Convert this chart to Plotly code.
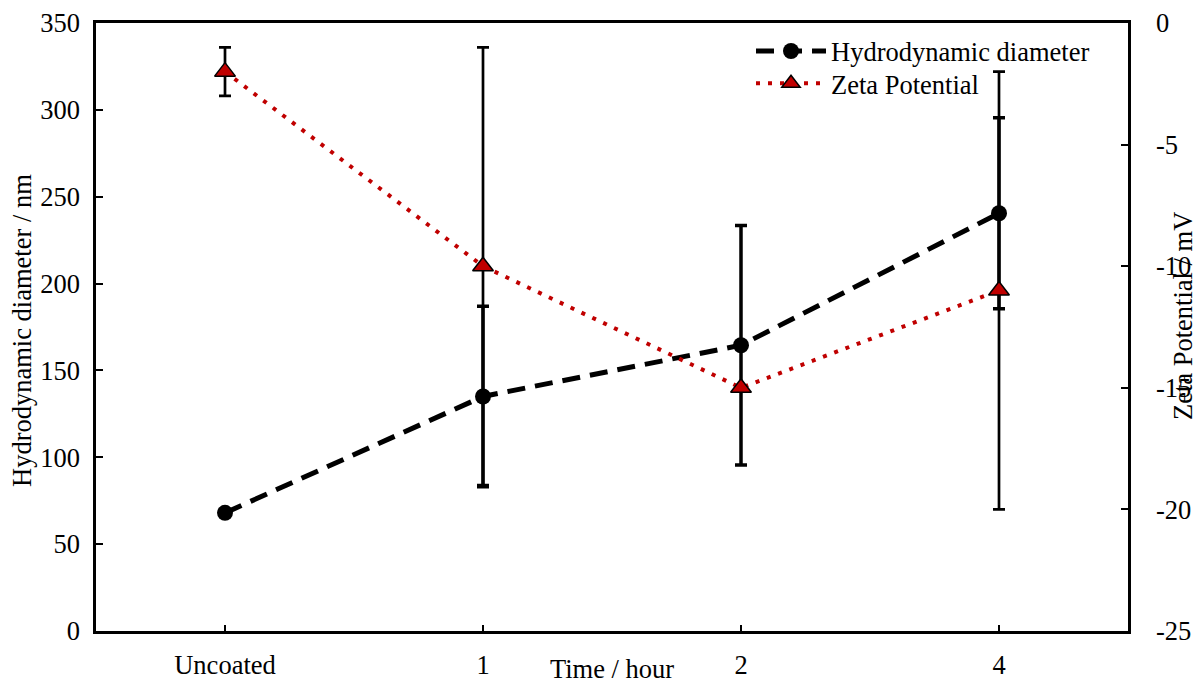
import plotly.graph_objects as go

categories = ["Uncoated", "1", "2", "4"]
hydro_diameter = [68, 135, 164.5, 240.5]
hydro_err = [0, 52, 69, 55]
zeta_potential = [-2, -10, -15, -11]
zeta_err = [1, 9, 0, 9]
zeta_tickvals = [0, -5, -10, -15, -20, -25]
zeta_ticktext = ["0", "-5", "-10", "-15", "-20", "-25"]

FONT = "Liberation Serif, Times New Roman, serif"
FS = 26.5

fig = go.Figure()

fig.add_trace(go.Scatter(
    x=categories, y=hydro_diameter, name="Hydrodynamic diameter",
    mode="lines+markers",
    line=dict(color="black", width=5, dash="18px,10px"),
    marker=dict(symbol="circle", size=16, color="black"),
    error_y=dict(type="data", array=hydro_err, visible=True,
                 color="black", thickness=3.5, width=6),
    yaxis="y", legend="legend",
))

fig.add_trace(go.Scatter(
    x=categories, y=zeta_potential, name="Zeta Potential",
    mode="lines+markers",
    line=dict(color="#C00000", width=4, dash="4px,8px"),
    marker=dict(symbol="triangle-up", size=18, color="#C00000",
                line=dict(color="black", width=1.5)),
    error_y=dict(type="data", array=zeta_err, visible=True,
                 color="black", thickness=2.7, width=6),
    yaxis="y2", legend="legend2",
))

axis_common = dict(
    showgrid=False, zeroline=False, showline=True, linecolor="black",
    linewidth=2.5, ticks="inside", tickcolor="black", automargin=False,
    tickfont=dict(family=FONT, size=FS, color="black"),
)

legend_common = dict(
    xanchor="left", yanchor="top",
    bgcolor="rgba(0,0,0,0)", borderwidth=0,
    font=dict(family=FONT, size=FS, color="black"),
    itemwidth=70,
)

fig.update_layout(
    width=1202, height=686,
    margin=dict(l=96, r=74, t=23, b=55, autoexpand=False),
    paper_bgcolor="white", plot_bgcolor="white",
    font=dict(family=FONT, size=FS, color="black"),
    showlegend=True,
    legend=dict(x=(751 - 96) / 1032, y=0.993, **legend_common),
    legend2=dict(x=(751 - 96) / 1032, y=0.940, **legend_common),
    xaxis=dict(
        type="category", range=[-0.5, 3.5], mirror=True,
        ticklen=6, tickwidth=1.5, ticklabelstandoff=8,
        **axis_common,
    ),
    yaxis=dict(
        range=[0, 350], dtick=50, ticklen=7, tickwidth=1.5,
        ticklabelstandoff=8,
        **axis_common,
    ),
    yaxis2=dict(
        range=[-25, 0], tickvals=zeta_tickvals, ticktext=zeta_ticktext,
        overlaying="y", side="right",
        ticklen=7, tickwidth=1.5, ticklabelstandoff=20,
        **axis_common,
    ),
    annotations=[
        dict(text="Hydrodynamic diameter / nm", textangle=-90,
             xref="paper", yref="paper",
             x=(22 - 96) / 1032, y=(631 - 331) / 608,
             xanchor="center", yanchor="middle", showarrow=False,
             font=dict(family=FONT, size=FS, color="black")),
        dict(text="Zeta Potential / mV", textangle=-90,
             xref="paper", yref="paper",
             x=(1183 - 96) / 1032, y=(631 - 316) / 608,
             xanchor="center", yanchor="middle", showarrow=False,
             font=dict(family=FONT, size=FS, color="black")),
        dict(text="Time / hour",
             xref="paper", yref="paper",
             x=(612 - 96) / 1032, y=(631 - 669) / 608,
             xanchor="center", yanchor="middle", showarrow=False,
             font=dict(family=FONT, size=FS, color="black")),
    ],
)

fig.write_html("out.html")
